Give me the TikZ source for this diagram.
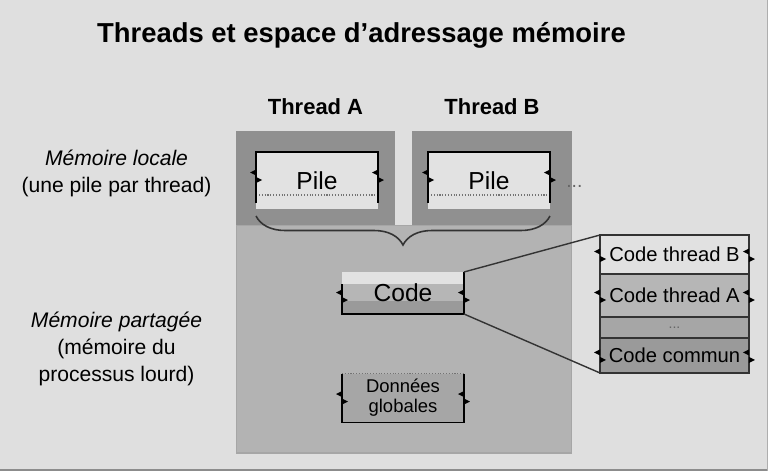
\documentclass[tikz,border=0pt]{standalone}
\usepackage{fontspec}
\setmainfont{Liberation Sans}
\usepackage{tikz}
\usetikzlibrary{calc}
\usetikzlibrary{positioning}
\usetikzlibrary{decorations.pathreplacing}
\tikzset{>=latex}

\definecolor{slidegray}{HTML}{DFDFDF}
\definecolor{localgray}{HTML}{909090}
\definecolor{sharedgray}{HTML}{B3B3B3}
\definecolor{sharededge}{HTML}{A6A6A6}
\definecolor{palegray}{HTML}{E2E2E2}
\definecolor{midgray}{HTML}{B6B6B6}
\definecolor{deepgray}{HTML}{9A9A9A}
\definecolor{framegray}{HTML}{8C8C8C}

\begin{document}
\begin{tikzpicture}[
        x=0.02cm, y=-0.02cm,
        title/.style={inner sep=0pt, font=\fontsize{15.6}{19}\selectfont\bfseries},
        threadlabel/.style={inner sep=0pt, font=\fontsize{12.5}{15}\selectfont\bfseries},
        sidelabel/.style={inner sep=0pt, align=center, font=\fontsize{12}{15.3}\selectfont},
        zone/.style={inner sep=0pt, outer sep=0pt},
        pilebox/.style={zone, fill=palegray, minimum width=2.44cm, minimum height=1.14cm,
            font=\fontsize{14}{16}\selectfont},
        codebox/.style={zone, fill=midgray, minimum width=2.44cm, minimum height=0.84cm,
            font=\fontsize{14}{16}\selectfont,
            path picture={
                \fill[palegray] (path picture bounding box.north west)
                    rectangle ([yshift=-0.24cm]path picture bounding box.north east);
                \fill[deepgray] ([yshift=0.26cm]path picture bounding box.south west)
                    rectangle (path picture bounding box.south east);
            }},
        databox/.style={zone, fill=sharededge, minimum width=2.44cm, minimum height=0.98cm,
            align=center, font=\fontsize{10.5}{11.3}\selectfont},
        rowbox/.style={zone, draw=black!80, line width=0.7pt, minimum width=2.98cm,
            font=\fontsize{11.5}{13}\selectfont},
        edge/.style={line width=0.9pt, black},
        dotline/.style={densely dotted, line width=0.6pt, black!55},
        brace/.style={decorate, decoration={brace, mirror, amplitude=0.58cm}, line width=0.9pt, black!80},
        zoomline/.style={line width=0.8pt, black!80}
    ]

    %=== Slide ===%
    \useasboundingbox (0,0) rectangle (768,471);
    \fill[slidegray] (0,0) rectangle (768,471);
    \fill[framegray] (0,468.5) rectangle (768,471);
    \fill[framegray!70] (766.5,0) rectangle (768,471);

    \node[title, anchor=base] (title) at (361.5,42) {Threads et espace d’adressage mémoire};

    %=== Side notes ===%
    \node[sidelabel] (local) at (116.5,173.5) {\textit{Mémoire locale}\\(une pile par thread)};
    \node[sidelabel] (sharednote) at (116.5,349) {\textit{Mémoire partagée}\\(mémoire du\\processus lourd)};

    %=== Memory zones ===%
    \node[zone, fill=localgray, minimum width=3.18cm, minimum height=1.88cm] (colA) at (315.5,178) {};
    \node[zone, fill=localgray, minimum width=3.2cm, minimum height=1.88cm] (colB) at (492,178) {};
    \node[zone, fill=sharedgray, draw=sharededge, line width=0.6pt,
        minimum width=6.72cm, minimum height=4.56cm] (shared) at (404,339) {};

    \node[threadlabel, above=0.32cm of colA] (labA) {Thread A};
    \node[threadlabel, above=0.32cm of colB] (labB) {Thread B};

    %=== Stacks ===%
    \node[pilebox] (pileA) at (317,180.5) {Pile};
    \node[pilebox] (pileB) at (489,180.5) {Pile};
    \foreach \p in {pileA, pileB} {
        \draw[edge] ($(\p.south west)+(0,-6)$) |- (\p.north east) -- ($(\p.south east)+(0,-6)$);
        \draw[dotline] ($(\p.south west)+(3,-14)$) -- ($(\p.south east)+(-3,-14)$);
    }
    \node[anchor=base west, inner sep=0pt, text=black!60, font=\fontsize{11}{13}\selectfont] (pileMore) at (566,187) {...};

    \draw[brace] ($(pileA.south west)+(0,7)$) -- ($(pileB.south east)+(0,7)$);

    %=== Code and data ===%
    \node[codebox] (code) at (403,293) {Code};
    \draw[edge] ($(code.north west)+(0,12)$) |- (code.south east) -- (code.north east);

    \node[databox] (donnees) at (403,398) {Données\\globales};
    \draw[dotline] (donnees.north west) -- (donnees.north east);
    \draw[edge] (donnees.north west) |- (donnees.south east) -- (donnees.north east);

    %=== Code segments ===%
    \node[rowbox, fill=palegray!105, minimum height=0.78cm] (ctB) at (674.5,254.5) {Code thread B};
    \node[rowbox, fill=midgray, minimum height=0.86cm, below=0pt of ctB] (ctA) {Code thread A};
    \node[rowbox, fill=sharededge, minimum height=0.42cm, below=0pt of ctA,
        font=\fontsize{8}{9}\selectfont, text=black!60] (cdots) {...};
    \node[rowbox, fill=deepgray, minimum height=0.7cm, below=0pt of cdots] (ccommun) {Code commun};

    \draw[zoomline] (code.north east) -- (ctB.north west);
    \draw[zoomline] (code.south east) -- (ccommun.south west);

    %=== Side marks ===%
    \newcommand{\sidemarks}[1]{
        \fill[black] #1 ++(0,-7) -- ++(-6,3) -- ++(6,3) -- cycle;
        \fill[black] #1 ++(0,0.5) -- ++(6,3) -- ++(-6,3) -- cycle;
    }
    \sidemarks{($(pileA.west)+(0,-4)$)}
    \sidemarks{($(pileA.east)+(0,-4)$)}
    \sidemarks{($(pileB.west)+(0,-4)$)}
    \sidemarks{($(pileB.east)+(0,-4)$)}
    \sidemarks{($(code.west)+(0,3.5)$)}
    \sidemarks{($(code.east)+(0,3.5)$)}
    \sidemarks{(donnees.west)}
    \sidemarks{(donnees.east)}
    \foreach \r in {ctB, ctA, ccommun} {
        \sidemarks{($(\r.west)+(0,1)$)}
        \sidemarks{($(\r.east)+(0,1)$)}
    }

\end{tikzpicture}
\end{document}
